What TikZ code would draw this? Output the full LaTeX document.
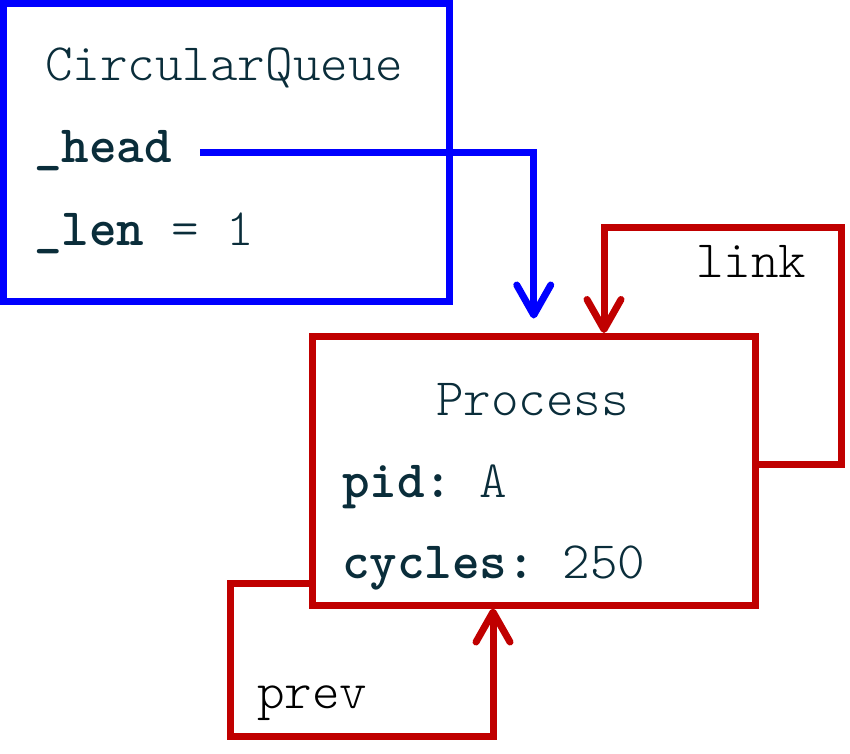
\documentclass[tikz,border=0pt]{standalone}
\usepackage{fontspec}
\setmonofont{lmmonolt10-regular.otf}[BoldFont=lmmonolt10-bold.otf]
\usetikzlibrary{arrows.meta}
\definecolor{qblue}{RGB}{0,0,255}
\definecolor{pred}{RGB}{192,0,0}
\definecolor{txt}{RGB}{10,45,58}
\tikzset{
  box/.style={draw, line width=7pt, rectangle, inner sep=0pt, outer sep=0pt},
  field/.style={anchor=base west, inner sep=0pt, outer sep=0pt, text=txt, font=\fontsize{52.5}{60}\selectfont\ttfamily},
  lbl/.style={anchor=base west, inner sep=0pt, outer sep=0pt, text=black, font=\fontsize{52.5}{60}\selectfont\ttfamily},
  conn/.style={line width=7pt, -{Straight Barb[length=30pt,width=34pt,round]}}
}
\begin{document}
\begin{tikzpicture}[x=1pt,y=-1pt]
\useasboundingbox (0,0) rectangle (850,753);
% boxes
\node[box, draw=qblue, minimum width=446pt, minimum height=298pt] (queue) at (226.5,152.5) {};
\node[box, draw=pred, minimum width=442.5pt, minimum height=268.5pt] (proc) at (533.75,470.75) {};
% texts
\node[field] (qtitle) at (45,80) {CircularQueue};
\node[field] (head) at (34,162) {\textbf{\_head}};
\node[field] (len) at (34,245) {\textbf{\_len} = 1};
\node[field] (ptitle) at (436,415) {Process};
\node[field] (pid) at (342,497) {\textbf{pid:} A};
\node[field] (cyc) at (342,578) {\textbf{cycles:} 250};
\node[lbl] (link) at (696,277) {link};
\node[lbl] (prev) at (257,708) {prev};
% connectors
\coordinate (hs) at (200,152.5);
\draw[conn, qblue] (hs) -| ([yshift=18pt]proc.north);
\coordinate (lk) at (841,227);
\draw[conn, pred] ([yshift=6.75pt]proc.east) -| (lk) -| ([xshift=70.25pt,yshift=3.5pt]proc.north);
\coordinate (pk) at (230,736);
\draw[conn, pred] ([yshift=-112.25pt]proc.west) -| (pk) -| ([xshift=-40.75pt,yshift=-3.5pt]proc.south);
\end{tikzpicture}
\end{document}
